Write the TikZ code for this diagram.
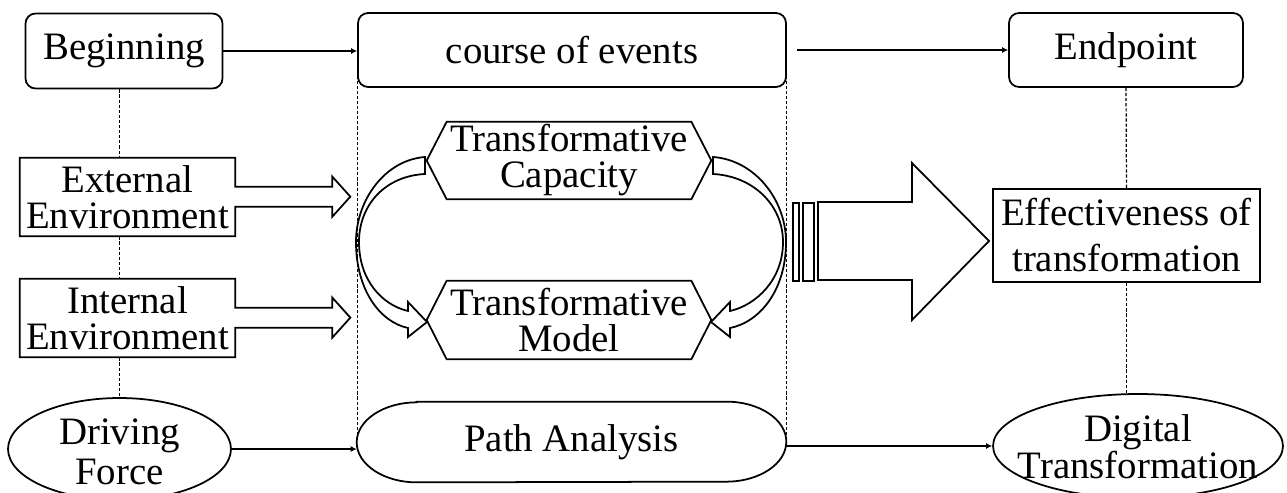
\documentclass[tikz,border=0pt]{standalone}
\usepackage{fontspec}
\setmainfont{Liberation Serif}
\usetikzlibrary{arrows.meta}
\usetikzlibrary{positioning}
\usetikzlibrary{calc}
\usetikzlibrary{shapes.geometric}
\newcommand{\labelfont}[1]{\fontsize{22.1}{#1}\selectfont\lineskiplimit=-50pt}

\tikzset{
  box/.style={draw, line width=1pt, inner sep=0pt, align=center},
  roundbox/.style={box, rounded corners=0.2cm},
  bare/.style={inner sep=0pt, align=center},
  oval/.style={ellipse, draw, line width=1pt, inner sep=0pt},
  outline/.style={line width=1pt, line join=miter},
  link/.style={line width=0.9pt, -{Latex[length=1.2mm,width=1.2mm]}},
  guide/.style={line width=0.7pt, dash pattern=on 1.8pt off 1.1pt},
}

\begin{document}
\begin{tikzpicture}[x=0.02cm, y=-0.02cm, every node/.style={font=\labelfont{20.5}}]
\useasboundingbox (0,0) rectangle (1287,493);
%top row
\node[roundbox, minimum width=3.94cm, minimum height=1.5cm] (begin) at (124,51) {Beginning};
\node[roundbox, minimum width=8.56cm, minimum height=1.48cm] (course) at (572,50) {course of events};
\node[roundbox, minimum width=4.68cm, minimum height=1.48cm] (endp) at (1126,50) {Endpoint};
%environment boxes, outline drawn with their arrows further down
\node[bare, minimum width=4.3cm, minimum height=1.56cm] (ext) at (127.5,197) {External\\Environment};
\node[bare, minimum width=4.3cm, minimum height=1.56cm] (int) at (127.5,318) {Internal\\Environment};
%hexagons in the middle
\node[bare, minimum width=5.68cm, minimum height=1.54cm] (capa) at (569,160.5) {Transformative\\Capacity};
\node[bare, minimum width=5.68cm, minimum height=1.56cm] (model) at (569,320) {Transformative\\Model};
\node[box, minimum width=5.34cm, minimum height=1.86cm, font=\labelfont{26.2}] (eff) at (1126.5,235.5) {Effectiveness of\\transformation};
%bottom row
\node[oval, minimum width=4.46cm, minimum height=2.04cm] (drv) at (119.5,449) {};
\node[bare, font=\labelfont{22.8}] (drvtext) at ($(drv)+(0,3)$) {Driving\\Force};
\node[bare, minimum width=8.58cm, minimum height=1.6cm] (pa) at (571.5,442) {Path Analysis};
\node[oval, minimum width=5.8cm, minimum height=2.08cm] (dt) at (1138,446) {};
\node[bare, font=\labelfont{21}] (dttext) at ($(dt)+(0,1)$) {Digital\\Transformation};

%box with block arrow
\foreach \e in {ext,int}
  \draw[outline] (\e.north west) -- (\e.north east) -- ++(0,29) -- ++(97,0) -- ++(0,-10) -- ++(18,20)
    -- ++(-18,20) -- ++(0,-10) -- ++(-97,0) -- (\e.south east) -- (\e.south west) -- cycle;
\foreach \h in {capa,model}
  \draw[outline] ($(\h.north west)+(20,0)$) -- ($(\h.north east)+(-20,0)$) -- (\h.east)
    -- ($(\h.south east)+(-20,0)$) -- ($(\h.south west)+(20,0)$) -- (\h.west) -- cycle;
\draw[outline] ($(pa.north west)+(60,0)$) -- ($(pa.north east)+(-60,0)$) arc[start angle=-90, end angle=90, x radius=60, y radius=40]
  -- ($(pa.south west)+(60,0)$) arc[start angle=90, end angle=270, x radius=60, y radius=40] -- cycle;

%curved arrows
\draw[outline] (425,157) .. controls (385,160) and (356,200) .. (356,242) .. controls (356,290) and (380,322) .. (408,328)
  -- (408,337) -- (427,322) -- (408,302) -- (408,311) .. controls (382,305) and (359,280) .. (359,242)
  .. controls (359,205) and (385,176) .. (425,174) -- cycle;
\draw[outline] (713,157) .. controls (755,160) and (786,200) .. (786,242) .. controls (786,290) and (760,322) .. (730,328)
  -- (730,337) -- (711,322) -- (730,302) -- (730,311) .. controls (756,305) and (783,280) .. (783,242)
  .. controls (783,205) and (753,176) .. (713,174) -- cycle;

%big arrow
\draw[outline] (793,203) rectangle (799,281);
\draw[outline] (803,203) rectangle (814,281);
\draw[outline] (818,202) -- (912,202) -- (912,163) -- (989,241) -- (912,320) -- (912,280) -- (818,280) -- cycle;

%arrows
\draw[link] (begin.east) -- (begin.east -| course.west);
\draw[link, shorten <=0.2cm] (course.east) -- (endp.west);
\draw[link] (drv.east) -- (drv.east -| pa.west);
\draw[link] (pa.east |- dt.west) -- (dt.west);

%dashed lines
\draw[guide] (drv.north |- begin.south) -- (drv.north |- ext.north);
\draw[guide] (drv.north |- ext.south) -- (drv.north |- int.north);
\draw[guide] (drv.north |- int.south) -- (drv.north);
\draw[guide] (course.west) -- (course.west |- pa.west);
\draw[guide] (course.east) -- (course.east |- pa.east);
\draw[guide] (endp.south) -- (eff.north);
\draw[guide] (eff.south) -- (eff.south |- dt.north);
\end{tikzpicture}
\end{document}
